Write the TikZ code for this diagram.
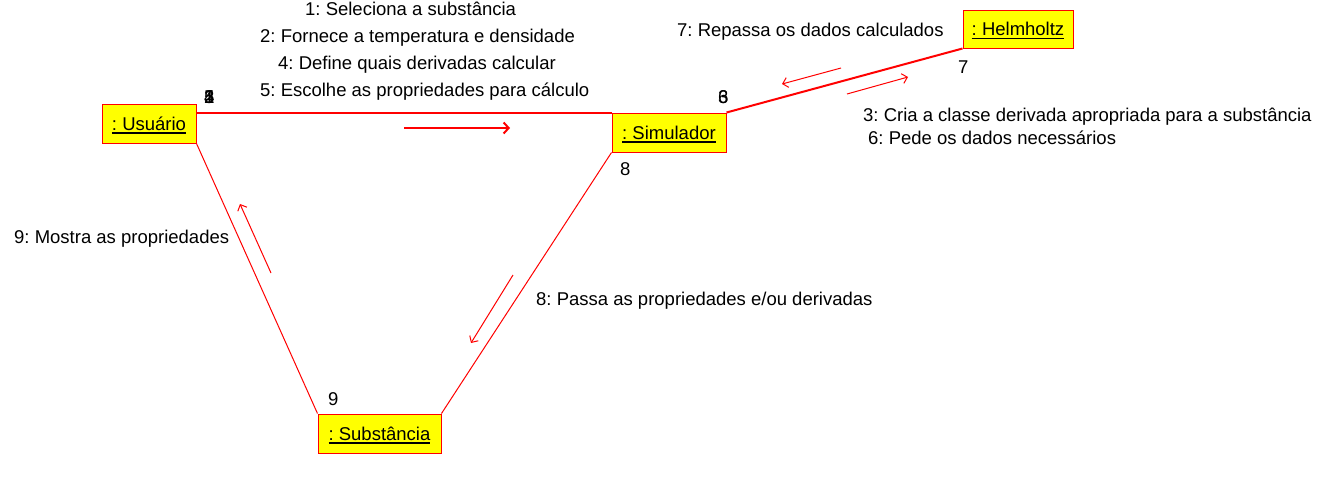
\documentclass[tikz,border=0pt]{standalone}
\usepackage{fontspec}
\setmainfont{Liberation Sans}
\usetikzlibrary{arrows.meta}
\definecolor{lred}{HTML}{FF0000}
\definecolor{lyel}{HTML}{FFFF00}
\newcommand\ulname[1]{\setbox0=\hbox{#1}\leavevmode\rlap{\copy0}\smash{\raisebox{-3.5pt}{\rule{\wd0}{1.6pt}}}}
\frenchspacing
\begin{document}
\begin{tikzpicture}[x=1pt,y=-1pt,
  every node/.style={font=\fontsize{18.5}{22}\selectfont\frenchspacing, inner sep=0pt},
  objbox/.style={draw=lred, line width=1pt, fill=lyel, minimum height=39pt},
  lbl/.style={anchor=base west},
  link/.style={draw=lred, line width=1pt},
  thick link/.style={draw=lred, line width=2pt},
  msg/.style={draw=lred, line width=1pt, -{Straight Barb[length=5pt,width=10pt]}},
  thick msg/.style={draw=lred, line width=2pt, -{Straight Barb[length=5pt,width=11pt]}}
]
\useasboundingbox (0,0) rectangle (1317,491);

\node[objbox, minimum width=94pt] (u) at (149,123.5) {\ulname{: Usuário}};
\node[objbox, minimum width=114pt] (s) at (669,132.5) {\ulname{: Simulador}};
\node[objbox, minimum width=110pt, minimum height=38pt] (h) at (1018,29) {\ulname{: Helmholtz}};
\node[objbox, minimum width=123pt] (b) at (379.5,433.5) {\ulname{: Substância}};

\path[thick link] (u.east |- s.north west) -- (s.north west);
\path[thick link] (s.north east) -- (h.south west);
\path[link] (u.south east) -- (b.north west);
\path[link] (s.south west) -- (b.north east);

% messages text
\node[lbl] (t1) at (305,15) {1: Seleciona a substância};
\node[lbl] (t2) at (260,42) {2: Fornece a temperatura e densidade};
\node[lbl] (t4) at (278,69) {4: Define quais derivadas calcular};
\node[lbl] (t5) at (260,96) {5: Escolhe as propriedades para cálculo};
\node[lbl] (t7) at (677,36) {7: Repassa os dados calculados};
\node[lbl] (t3) at (863,121) {3: Cria a classe derivada apropriada para a substância};
\node[lbl] (t6) at (868,144) {6: Pede os dados necessários};
\node[lbl] (t9) at (14,243) {9: Mostra as propriedades};
\node[lbl] (t8) at (536,305) {8: Passa as propriedades e/ou derivadas};

% sequence numbers
\node[lbl] (n1) at (204,103) {1};
\node[lbl] (n2) at (204,103) {2};
\node[lbl] (n4) at (204,103) {4};
\node[lbl] (n5) at (204,103) {5};
\node[lbl] (n3) at (718,103) {3};
\node[lbl] (n6) at (718,103) {6};
\node[lbl] (n7) at (958,73) {7};
\node[lbl] (n8) at (620,175) {8};
\node[lbl] (n9) at (328,405) {9};

% arrows
\coordinate (a1s) at (404,128);
\coordinate (a1e) at (510,128);
\draw[thick msg] (a1s) -- (a1e);
\coordinate (a2s) at (841,68);
\coordinate (a2e) at (782,84);
\draw[msg] (a2s) -- (a2e);
\coordinate (a3s) at (847,94);
\coordinate (a3e) at (908,77);
\draw[msg] (a3s) -- (a3e);
\coordinate (a4s) at (271,273);
\coordinate (a4e) at (240,204);
\draw[msg] (a4s) -- (a4e);
\coordinate (a5s) at (513,275);
\coordinate (a5e) at (471,343);
\draw[msg] (a5s) -- (a5e);
\end{tikzpicture}
\end{document}
